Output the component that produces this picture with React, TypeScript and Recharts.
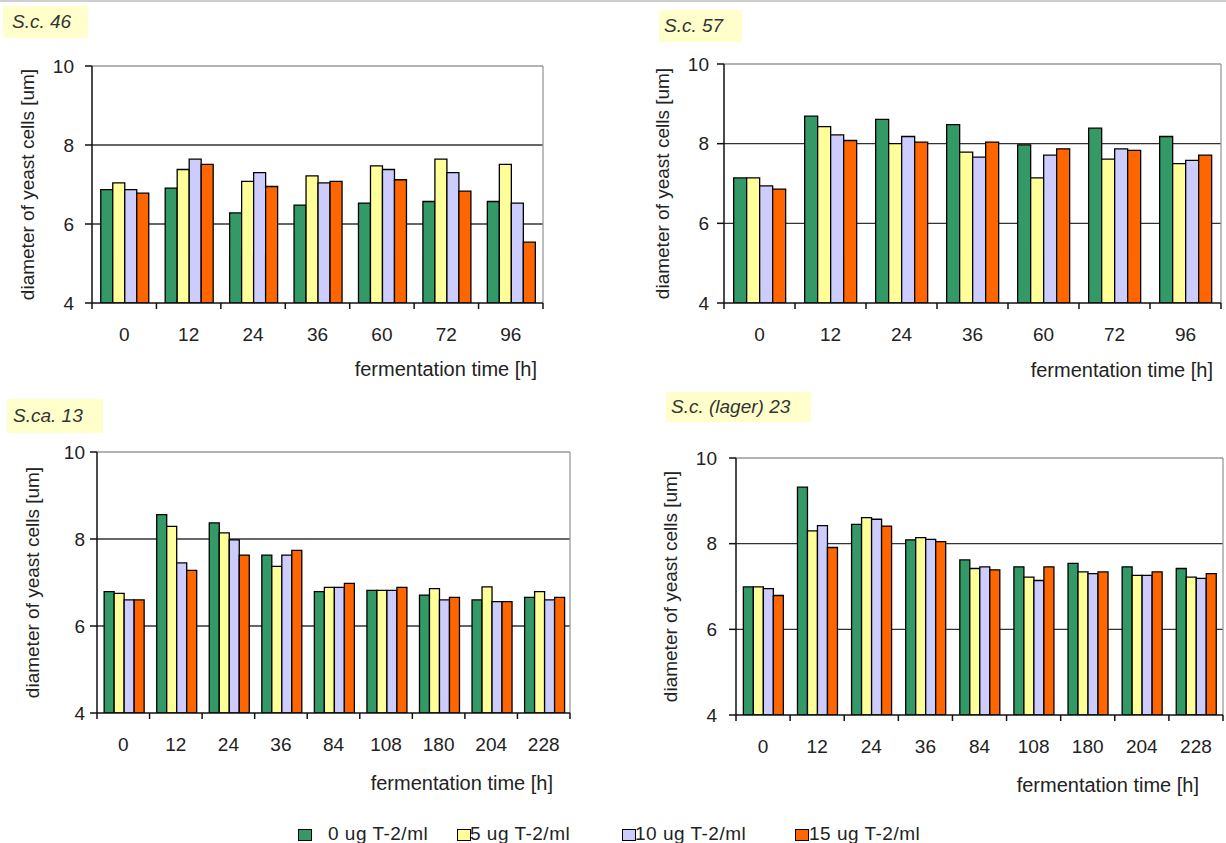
import React from 'react';
import { BarChart, Bar, XAxis, YAxis, CartesianGrid, ReferenceLine } from 'recharts';

const FONT = '"Liberation Sans", Arial, Helvetica, sans-serif';

// ---- data ----
const SERIES_NAMES = ['0 ug T-2/ml', '5 ug T-2/ml', '10 ug T-2/ml', '15 ug T-2/ml'];
const SERIES_COLORS = ['#339966', '#ffff99', '#ccccff', '#ff6600'];
const Y_TICKS = [4, 6, 8, 10];
const X_TITLE = 'fermentation time [h]';
const Y_TITLE = 'diameter of yeast cells [um]';

const TIMES_A = ['0', '12', '24', '36', '60', '72', '96'];
const TIMES_B = ['0', '12', '24', '36', '84', '108', '180', '204', '228'];

const SC46_0 = [6.87, 6.91, 6.28, 6.48, 6.53, 6.57, 6.57];
const SC46_5 = [7.04, 7.38, 7.08, 7.22, 7.47, 7.64, 7.51];
const SC46_10 = [6.87, 7.64, 7.30, 7.04, 7.38, 7.30, 6.53];
const SC46_15 = [6.78, 7.51, 6.95, 7.08, 7.12, 6.83, 5.54];

const SC57_0 = [7.14, 8.69, 8.61, 8.48, 7.97, 8.39, 8.18];
const SC57_5 = [7.14, 8.43, 8.0, 7.79, 7.14, 7.61, 7.5];
const SC57_10 = [6.94, 8.22, 8.18, 7.66, 7.71, 7.87, 7.58];
const SC57_15 = [6.86, 8.08, 8.04, 8.04, 7.87, 7.83, 7.71];

const SCA13_0 = [6.79, 8.56, 8.37, 7.63, 6.79, 6.82, 6.71, 6.6, 6.66];
const SCA13_5 = [6.75, 8.29, 8.14, 7.37, 6.89, 6.82, 6.86, 6.9, 6.79];
const SCA13_10 = [6.6, 7.45, 7.98, 7.63, 6.89, 6.82, 6.6, 6.56, 6.6];
const SCA13_15 = [6.6, 7.28, 7.63, 7.74, 6.98, 6.89, 6.66, 6.56, 6.66];

const LAGER23_0 = [6.99, 9.32, 8.45, 8.09, 7.62, 7.46, 7.54, 7.46, 7.42];
const LAGER23_5 = [6.99, 8.3, 8.61, 8.14, 7.42, 7.22, 7.34, 7.26, 7.22];
const LAGER23_10 = [6.95, 8.42, 8.57, 8.1, 7.46, 7.14, 7.3, 7.26, 7.19];
const LAGER23_15 = [6.79, 7.91, 8.41, 8.05, 7.39, 7.46, 7.34, 7.34, 7.3];

const TITLES = ['S.c. 46', 'S.c. 57', 'S.ca. 13', 'S.c. (lager) 23'];

function buildRows(cats: string[], a: number[], b: number[], c: number[], d: number[]) {
  return cats.map((cat, i) => ({ cat, s0: a[i], s1: b[i], s2: c[i], s3: d[i] }));
}

const DATA = [
  buildRows(TIMES_A, SC46_0, SC46_5, SC46_10, SC46_15),
  buildRows(TIMES_A, SC57_0, SC57_5, SC57_10, SC57_15),
  buildRows(TIMES_B, SCA13_0, SCA13_5, SCA13_10, SCA13_15),
  buildRows(TIMES_B, LAGER23_0, LAGER23_5, LAGER23_10, LAGER23_15),
];

// ---- layout (styling only) ----
const PANELS = [
  { left: 0, top: 40, width: 560, height: 360, yw: 92, mt: 26, mr: 17, mb: 18, xh: 79, xOff: 6, yOff: 27, tm: 11,
    title: { left: 3, top: 6, width: 85, height: 32, pad: 9 } },
  { left: 600, top: 40, width: 626, height: 360, yw: 124, mt: 24, mr: 5, mb: 15, xh: 82, xOff: 8, yOff: 62, tm: 8,
    title: { left: 659, top: 10, width: 83, height: 32, pad: 5 } },
  { left: 0, top: 430, width: 600, height: 380, yw: 97, mt: 22, mr: 30, mb: 3, xh: 94, xOff: 17, yOff: 32, tm: 5,
    title: { left: 7, top: 399, width: 96, height: 34, pad: 6 } },
  { left: 620, top: 430, width: 606, height: 390, yw: 116, mt: 28, mr: 3, mb: 4, xh: 101, xOff: 24, yOff: 50, tm: 12,
    title: { left: 666, top: 392, width: 145, height: 30, pad: 5 } },
];

const LEGEND_POS = [
  { box: 298, text: 328 },
  { box: 457, text: 470 },
  { box: 622, text: 635 },
  { box: 795, text: 809 },
];

function XTick(props: any) {
  const { x, y, payload, index, visibleTicksCount, halfBand } = props;
  const off = payload && typeof payload.offset === 'number' && payload.offset > 0 ? payload.offset : halfBand;
  const isLast = index === visibleTicksCount - 1;
  return (
    <g>
      <line x1={x - off} x2={x - off} y1={y} y2={y + 6} stroke="#111" strokeWidth={1.5} />
      {isLast && <line x1={x + off} x2={x + off} y1={y} y2={y + 6} stroke="#111" strokeWidth={1.5} />}
      <text x={x} y={y + 38} textAnchor="middle" fontSize={19} fill="#222" fontFamily={FONT}>
        {payload.value}
      </text>
    </g>
  );
}

function Panel({ idx }: { idx: number }) {
  const p = PANELS[idx];
  const rows = DATA[idx];
  const plotW = p.width - p.yw - p.mr;
  const halfBand = plotW / rows.length / 2;
  const lastCat = rows[rows.length - 1].cat;
  return (
    <div style={{ position: 'absolute', left: p.left, top: p.top }}>
      <BarChart
        width={p.width}
        height={p.height}
        data={rows}
        margin={{ top: p.mt, right: p.mr, bottom: p.mb, left: 0 }}
        barCategoryGap="13.6%"
        barGap={0}
      >
        <CartesianGrid vertical={false} horizontalValues={[6, 8]} stroke="#333" strokeWidth={1.3} />
        <ReferenceLine y={10} stroke="#9a9a9a" strokeWidth={1.3} ifOverflow="visible" />
        <ReferenceLine x={lastCat} position="end" stroke="#9a9a9a" strokeWidth={1.3} ifOverflow="visible" />
        <XAxis
          dataKey="cat"
          height={p.xh}
          interval={0}
          tickLine={false}
          tickSize={0}
          tickMargin={0}
          axisLine={{ stroke: '#111', strokeWidth: 1.5 }}
          tick={<XTick halfBand={halfBand} />}
          label={{ value: X_TITLE, position: 'insideBottomRight', offset: p.xOff, fontSize: 20, fill: '#222' }}
        />
        <YAxis
          type="number"
          domain={[4, 10]}
          ticks={Y_TICKS}
          width={p.yw}
          allowDataOverflow
          tickSize={7}
          tickMargin={p.tm}
          tick={{ fontSize: 19, fill: '#222' }}
          tickLine={{ stroke: '#111', strokeWidth: 1.5 }}
          axisLine={{ stroke: '#111', strokeWidth: 1.5 }}
          label={{
            value: Y_TITLE,
            angle: -90,
            position: 'insideLeft',
            offset: p.yOff,
            fontSize: 19,
            fill: '#222',
            style: { textAnchor: 'middle' },
          }}
        />
        {['s0', 's1', 's2', 's3'].map((k, i) => (
          <Bar
            key={k}
            dataKey={k}
            name={SERIES_NAMES[i]}
            fill={SERIES_COLORS[i]}
            stroke="#000"
            strokeWidth={1.3}
            isAnimationActive={false}
          />
        ))}
      </BarChart>
    </div>
  );
}

export default function App() {
  return (
    <div
      style={{
        position: 'absolute',
        left: 0,
        top: 0,
        width: 1226,
        height: 843,
        background: '#fff',
        fontFamily: FONT,
        overflow: 'hidden',
      }}
    >
      <div style={{ position: 'absolute', left: 0, top: 0, width: 1226, height: 2, background: '#cfcfcf' }} />
      {PANELS.map((p, i) => (
        <Panel key={i} idx={i} />
      ))}
      {PANELS.map((p, i) => (
        <div
          key={'t' + i}
          style={{
            position: 'absolute',
            left: p.title.left,
            top: p.title.top,
            width: p.title.width,
            height: p.title.height,
            lineHeight: p.title.height + 'px',
            background: '#ffffcc',
            fontStyle: 'italic',
            fontSize: 19,
            color: '#333',
            paddingLeft: p.title.pad,
            boxSizing: 'border-box',
            whiteSpace: 'nowrap',
          }}
        >
          {TITLES[i]}
        </div>
      ))}
      {SERIES_NAMES.map((name, i) => (
        <React.Fragment key={'l' + i}>
          <div
            style={{
              position: 'absolute',
              left: LEGEND_POS[i].box,
              top: 829,
              width: 14,
              height: 12,
              background: SERIES_COLORS[i],
              border: '1px solid #000',
              boxSizing: 'border-box',
            }}
          />
          <div
            style={{
              position: 'absolute',
              left: LEGEND_POS[i].text,
              top: 823,
              fontSize: 19,
              lineHeight: '22px',
              letterSpacing: 0.5,
              color: '#222',
              whiteSpace: 'nowrap',
            }}
          >
            {name}
          </div>
        </React.Fragment>
      ))}
    </div>
  );
}
